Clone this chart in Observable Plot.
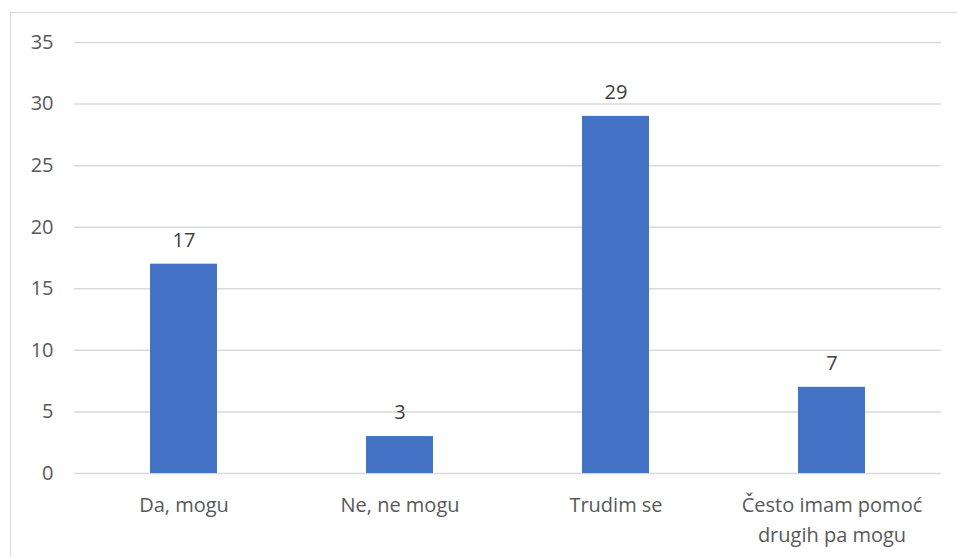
<!DOCTYPE html>
<html>
<head>
<meta charset="utf-8">
<script src="https://cdn.jsdelivr.net/npm/d3@7"></script>
<script src="https://cdn.jsdelivr.net/npm/@observablehq/plot@0.6"></script>
<style>
  html, body { margin: 0; padding: 0; background: #fff; overflow: hidden; }
  #wrap { position: relative; width: 957px; height: 557px; overflow: hidden; }
  #frame { position: absolute; left: 10px; top: 12px; width: 1200px; height: 1200px; border: 1.5px solid #d9d9d9; box-sizing: border-box; }
  #chart { position: absolute; left: 0; top: 0; }
</style>
</head>
<body>
<div id="wrap"><div id="frame"></div><div id="chart"></div></div>
<script>
const categories = ["Da, mogu", "Ne, ne mogu", "Trudim se", "Često imam pomoć\ndrugih pa mogu"];
const values = [17, 3, 29, 7];
const yTicks = [0, 5, 10, 15, 20, 25, 30, 35];

const data = categories.map((c, i) => ({category: c, value: values[i]}));

const chart = Plot.plot({
  width: 957,
  height: 557,
  marginLeft: 74,
  marginRight: 16,
  marginTop: 42,
  marginBottom: 84,
  style: {fontFamily: "'Open Sans', sans-serif", fontSize: "20px", color: "#595959", background: "transparent"},
  x: {domain: categories, paddingInner: 0.69, paddingOuter: 0.345, label: null},
  y: {domain: [0, 35], ticks: yTicks, label: null},
  marks: [
    Plot.gridY(yTicks, {stroke: "#d9d9d9", strokeOpacity: 1, strokeWidth: 1.5}),
    Plot.barY(data, {x: "category", y: "value", fill: "#4472C4"}),
    Plot.text(data, {x: "category", y: "value", text: d => String(d.value), dy: -24, fill: "#404040", fontSize: 20}),
    Plot.axisY(yTicks, {tickSize: 0, tickPadding: 21, label: null, fill: "#595959", fontSize: 20}),
    Plot.axisX({tickSize: 0, tickPadding: 17, label: null, fill: "#595959", fontSize: 20, lineHeight: 1.5})
  ]
});
document.getElementById("chart").appendChild(chart);
</script>
</body>
</html>
